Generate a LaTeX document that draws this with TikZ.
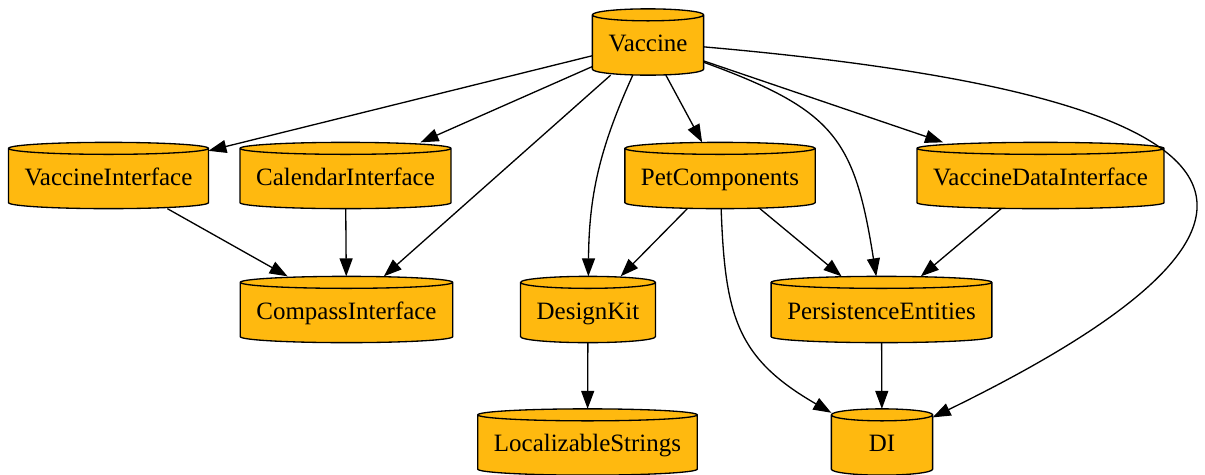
\documentclass[tikz,border=0pt]{standalone}
\usepackage{fontspec}
\setmainfont{Liberation Serif}
\usetikzlibrary{arrows.meta,calc,backgrounds}
\definecolor{dbfill}{HTML}{FFB90F}
\def\capr{0.12cm}
\tikzset{
  db/.style={rectangle,minimum width=2cm,minimum height=1.3cm,inner xsep=0.31cm,
    text height=0.42cm,text depth=0.04cm,
    font=\fontsize{14.2}{16}\selectfont},
  dbline/.style={draw=black,line width=0.75pt,fill=dbfill},
  >={Triangle[length=0.36cm,width=0.26cm]}
}
\begin{document}
\begin{tikzpicture}[x=0.02cm,y=-0.02cm,line width=0.75pt]
      \useasboundingbox (0,0) rectangle (1205,474);
      \draw
        (648,42) node[db] (vac){Vaccine}
        (108.5,175.5) node[db] (vacif){VaccineInterface}
        (345.5,175.5) node[db] (calif){CalendarInterface}
        (720,175.5) node[db] (pet){PetComponents}
        (1040.5,175.5) node[db] (vdif){VaccineDataInterface}
        (346.5,309.5) node[db] (comp){CompassInterface}
        (588,309.5) node[db] (dk){DesignKit}
        (881.5,309.5) node[db] (pers){PersistenceEntities}
        (587.5,442) node[db] (loc){LocalizableStrings}
        (882,442) node[db] (di){DI};
      \begin{scope}[on background layer]
        \foreach \db in {vac,vacif,calif,pet,vdif,comp,dk,pers,loc,di}
          \draw[dbline] let \p1=(\db.north west), \p2=(\db.south east), \n1={(\x2-\x1)/2} in
            (\x1,\y1-\capr) -- (\x1,\y2+\capr)
            arc[start angle=180,end angle=360,x radius=\n1,y radius=\capr]
            -- (\x2,\y1-\capr)
            arc[start angle=0,end angle=180,x radius=\n1,y radius=\capr] -- cycle
            (\x1,\y1-\capr) arc[start angle=180,end angle=360,x radius=\n1,y radius=\capr];
      \end{scope}
      \begin{scope}[->]
        \draw (vac) to (vacif);
        \draw (vac) to (calif);
        \draw (vac) to (comp);
        \draw (vac) to[bend right=12] (dk);
        \draw (vac) to (pet);
        \draw (vac) to (vdif);
        \draw (vac) to[out=-20,in=99,looseness=1.3] (pers);
        \draw (vac) to[out=-5,in=26,looseness=2.97] (di);
        \draw (vacif) to (comp);
        \draw (calif) to (comp);
        \draw (pet) to (dk);
        \draw (pet) to (pers);
        \draw (pet) to[out=-88,in=150,looseness=1.2] (di);
        \draw (vdif) to (pers);
        \draw (dk) to (loc);
        \draw (pers) to (di);
      \end{scope}
    \end{tikzpicture}
\end{document}
